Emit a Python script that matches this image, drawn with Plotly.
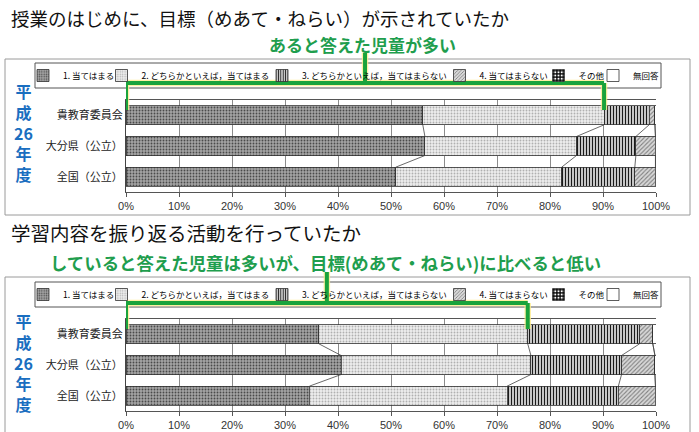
import plotly.graph_objects as go

W, H = 699, 432

# ---------------- data ----------------
categories = ["貴教育委員会", "大分県（公立）", "全国（公立）"]
series_names = ["1. 当てはまる", "2. どちらかといえば，当てはまる",
                "3. どちらかといえば，当てはまらない", "4. 当てはまらない",
                "その他", "無回答"]
x_ticks = [0, 10, 20, 30, 40, 50, 60, 70, 80, 90, 100]
x_tick_labels = ["0%", "10%", "20%", "30%", "40%", "50%", "60%", "70%", "80%", "90%", "100%"]

title1 = "授業のはじめに、目標（めあて・ねらい）が示されていたか"
note1 = "あると答えた児童が多い"
title2 = "学習内容を振り返る活動を行っていたか"
note2 = "していると答えた児童は多いが、目標(めあて・ねらい)に比べると低い"
year_label = "平<br>成<br>26<br>年<br>度"

# Question 1 (percent per category, top to bottom)
q1_s1 = [56.0, 56.4, 50.9]
q1_s2 = [34.2, 28.6, 31.3]
q1_s3 = [8.5, 11.2, 13.8]
q1_s4 = [1.1, 3.7, 3.9]
q1_s5 = [0.0, 0.0, 0.0]
q1_s6 = [0.2, 0.1, 0.1]

# Question 2
q2_s1 = [36.4, 40.6, 34.6]
q2_s2 = [39.4, 35.8, 37.3]
q2_s3 = [21.1, 17.1, 21.0]
q2_s4 = [2.5, 6.3, 7.0]
q2_s5 = [0.0, 0.0, 0.0]
q2_s6 = [0.6, 0.2, 0.1]

q1 = [q1_s1, q1_s2, q1_s3, q1_s4, q1_s5, q1_s6]
q2 = [q2_s1, q2_s2, q2_s3, q2_s4, q2_s5, q2_s6]

# ---------------- styles ----------------
JP = "Noto Sans CJK JP"
GREEN = "#1aa33c"
GREEN_TXT = "#1f9e4e"
BLUE = "#1a6ec0"

styles = [
    dict(shape=".", fgcolor="#4a4a4a", bgcolor="#a4a4a4", size=3, solidity=0.3),
    dict(shape=".", fgcolor="#b0b0b0", bgcolor="#eeeeee", size=3, solidity=0.3),
    dict(shape="|", fgcolor="#1a1a1a", bgcolor="#ffffff", size=3, solidity=0.5),
    dict(shape="/", fgcolor="#808080", bgcolor="#d8d8d8", size=3, solidity=0.35),
    dict(shape="+", fgcolor="#000000", bgcolor="#ffffff", size=4, solidity=0.6),
    dict(shape="", fgcolor="#ffffff", bgcolor="#ffffff", size=3, solidity=0.3),
]


def px(x):
    return x / W


def py(y):
    return 1 - y / H


fig = go.Figure()

panels = [
    dict(data=q1, xa="x", ya="y", shift=0, legbase=0),
    dict(data=q2, xa="x2", ya="y2", shift=219, legbase=6),
]

ypos = [0, 1, 2]
BAR_W = 0.62

for p in panels:
    data = p["data"]
    for i, (vals, name, st) in enumerate(zip(data, series_names, styles)):
        k = p["legbase"] + i + 1
        legend_id = "legend" if k == 1 else f"legend{k}"
        fig.add_trace(go.Bar(
            y=ypos, x=vals, orientation="h", name=name, width=BAR_W,
            xaxis=p["xa"], yaxis=p["ya"], legend=legend_id,
            marker=dict(color=st["bgcolor"],
                        line=dict(color="#333333", width=0.8),
                        pattern=dict(shape=st["shape"], fgcolor=st["fgcolor"],
                                     bgcolor=st["bgcolor"], size=st["size"],
                                     solidity=st["solidity"], fillmode="replace")),
            hoverinfo="skip",
        ))
    # series lines connecting segment boundaries
    cums = []
    run = [0.0, 0.0, 0.0]
    for vals in data:
        run = [r + v for r, v in zip(run, vals)]
        cums.append(list(run))
    lx, ly = [], []
    for c in cums[:-1]:
        for j in range(len(categories) - 1):
            lx += [c[j], c[j + 1], None]
            ly += [ypos[j] + BAR_W / 2, ypos[j + 1] - BAR_W / 2, None]
    fig.add_trace(go.Scatter(x=lx, y=ly, mode="lines", xaxis=p["xa"], yaxis=p["ya"],
                             line=dict(color="#444444", width=0.8),
                             showlegend=False, hoverinfo="skip"))

axis_common_x = dict(range=[0, 100], tickmode="array", tickvals=x_ticks, ticktext=x_tick_labels,
                     showgrid=True, gridcolor="#8c8c8c", gridwidth=1,
                     showline=True, linecolor="#555555", linewidth=1, mirror=True,
                     ticks="outside", ticklen=4, tickcolor="#555555",
                     zeroline=False, fixedrange=True, automargin=False,
                     tickfont=dict(family="Liberation Sans Narrow, Arial Narrow, Arial", size=11, color="#333333"))
axis_common_y = dict(range=[2.5, -0.5], tickvals=ypos, ticktext=categories,
                     showgrid=False, zeroline=False, showline=True,
                     linecolor="#444444", linewidth=1, ticks="", automargin=False,
                     tickfont=dict(family=JP, size=11, color="#222222"), fixedrange=True)

xdom = [px(126), px(656)]
fig.update_layout(
    width=W, height=H, margin=dict(l=0, r=0, t=0, b=0, pad=0, autoexpand=False),
    paper_bgcolor="white", plot_bgcolor="white",
    barmode="stack", bargap=0.38,
    xaxis=dict(domain=xdom, anchor="y", **axis_common_x),
    yaxis=dict(domain=[py(192), py(100)], anchor="x", **axis_common_y),
    xaxis2=dict(domain=xdom, anchor="y2", **axis_common_x),
    yaxis2=dict(domain=[py(411), py(319)], anchor="x2", **axis_common_y),
    font=dict(family=JP),
)

# legends: one per item so swatch positions can follow the original layout
leg_centers = [43, 121.5, 282, 459.5, 558.5, 613]
for p in panels:
    for i, cx in enumerate(leg_centers):
        k = p["legbase"] + i + 1
        key = "legend" if k == 1 else f"legend{k}"
        fig.update_layout(**{key: dict(
            x=px(cx - 20), y=py(75.5 + p["shift"]), xanchor="left", yanchor="middle",
            orientation="h", bgcolor="rgba(0,0,0,0)", borderwidth=0,
            font=dict(family=JP, size=8.5, color="#000000"),
            itemclick=False, itemdoubleclick=False)})

shapes = []
annotations = []

# panel boxes and legend boxes
for (y0, y1) in [(59, 215), (277, 433)]:
    shapes.append(dict(type="rect", xref="paper", yref="paper",
                       x0=px(5), x1=px(690), y0=py(y1), y1=py(y0),
                       line=dict(color="#9a9a9a", width=1), layer="below"))
for s in [0, 219]:
    shapes.append(dict(type="rect", xref="paper", yref="paper",
                       x0=px(35), x1=px(661), y0=py(88 + s), y1=py(63 + s),
                       line=dict(color="#555555", width=1), layer="below"))

# green brackets (x from the data, y in page space)
brackets = [
    dict(right=q1_s1[0] + q1_s2[0], top=83, bottom=110, stem_top=53, xref="x"),
    dict(right=q2_s1[0] + q2_s2[0], top=303, bottom=329, stem_top=272, xref="x2"),
]
for b in brackets:
    mid = b["right"] / 2
    segs = [
        (0, b["bottom"], 0, b["top"]),
        (0, b["top"], b["right"], b["top"]),
        (b["right"], b["top"], b["right"], b["bottom"]),
        (mid, b["stem_top"], mid, b["top"]),
    ]
    for col, wd in [("rgba(255,236,140,0.8)", 6.5), (GREEN, 4)]:
        for (xa, ya, xb, yb) in segs:
            shapes.append(dict(type="line", xref=b["xref"], yref="paper",
                               x0=xa, x1=xb, y0=py(ya), y1=py(yb),
                               line=dict(color=col, width=wd), layer="above"))

# titles
annotations.append(dict(text=title1, x=px(9), y=py(18), xref="paper", yref="paper",
                        xanchor="left", yanchor="middle", showarrow=False,
                        font=dict(family=JP, size=18.5, color="#111111")))
annotations.append(dict(text=note1, x=px(362), y=py(45), xref="paper", yref="paper",
                        xanchor="center", yanchor="middle", showarrow=False,
                        font=dict(family=JP, size=17, color=GREEN_TXT, weight="bold")))
annotations.append(dict(text=title2, x=px(9), y=py(232), xref="paper", yref="paper",
                        xanchor="left", yanchor="middle", showarrow=False,
                        font=dict(family=JP, size=19.5, color="#111111")))
annotations.append(dict(text=note2, x=px(48), y=py(262), xref="paper", yref="paper",
                        xanchor="left", yanchor="middle", showarrow=False,
                        font=dict(family=JP, size=17.4, color=GREEN_TXT, weight="bold")))

# vertical year label (one stacked text per panel)
for center in [132, 362]:
    annotations.append(dict(text=year_label, x=px(23), y=py(center),
                            xref="paper", yref="paper", xanchor="center", yanchor="middle",
                            align="center", showarrow=False,
                            font=dict(family=JP, size=16, color=BLUE, weight="bold")))

fig.update_layout(shapes=shapes, annotations=annotations)
fig.write_html("out.html")
